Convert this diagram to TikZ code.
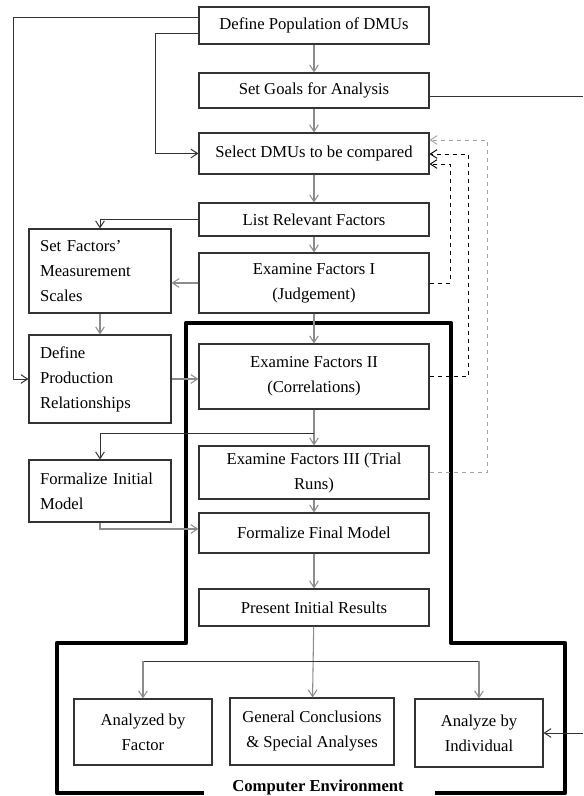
\documentclass[tikz,border=0pt]{standalone}
\usepackage{fontspec}
\setmainfont{Liberation Serif}
\usetikzlibrary{arrows.meta}
\definecolor{boxline}{HTML}{333333}
\definecolor{flowgray}{HTML}{8C8C8C}
\tikzset{
  mainbox/.style={draw=boxline, line width=0.8pt, minimum width=172.5pt, align=center, inner sep=2pt},
  sidebox/.style={draw=boxline, line width=0.8pt, text width=90pt, inner xsep=8.25pt, align=left},
  endbox/.style={draw=boxline, line width=0.8pt, align=center, inner sep=2pt},
  flow/.style={draw=flowgray, line width=0.8pt, -{Straight Barb[length=5pt,width=6.5pt]}},
  link/.style={draw=boxline, line width=0.75pt},
  feedback/.style={dashed, line width=0.7pt, -{Straight Barb[length=5pt,width=6.5pt]}},
  envframe/.style={draw=black, line width=3.2pt, line join=round}
}
\begin{document}
\begin{tikzpicture}[x=0.75pt,y=-0.75pt,font=\fontsize{12.5}{18.75}\selectfont]
\useasboundingbox (0,0) rectangle (583,796);
% main column
\node[mainbox, minimum height=27.75pt] (pop) at (314,25.5) {Define Population of DMUs};
\node[mainbox, minimum height=26.25pt] (goals) at (314,90.5) {Set Goals for Analysis};
\node[mainbox, minimum height=30.75pt] (sel) at (314,153.5) {Select DMUs to be compared};
\node[mainbox, minimum height=24.75pt] (list) at (314,219.5) {List Relevant Factors};
\node[mainbox, minimum height=45pt] (exI) at (314,283) {Examine Factors I\\(Judgement)};
\node[mainbox, minimum height=48.75pt] (exII) at (314,376.5) {Examine Factors II\\(Correlations)};
\node[mainbox, minimum height=39.75pt] (exIII) at (314,472.5) {Examine Factors III (Trial\\Runs)};
\node[mainbox, minimum height=30pt] (final) at (314,533) {Formalize Final Model};
\node[mainbox, minimum height=27.75pt] (present) at (314,607.5) {Present Initial Results};
% left column
\node[sidebox, minimum height=63pt] (scales) at (100,271) {Set Factors'\\Measurement\\Scales};
\node[sidebox, minimum height=66pt] (prod) at (100,379) {Define\\Production\\Relationships};
\node[sidebox, minimum height=46.5pt] (initial) at (100,491) {Formalize Initial\\Model};
% results
\node[endbox, minimum width=103.5pt, minimum height=49.5pt] (byfactor) at (143,732) {Analyzed by\\Factor};
\node[endbox, minimum width=123pt, minimum height=50.25pt] (general) at (312,731.5) {General Conclusions\\\& Special Analyses};
\node[endbox, minimum width=96pt, minimum height=51pt] (individual) at (479,733) {Analyze by\\Individual};
% computer environment
\draw[envframe] (204,793) -- (57,793) -- (57,643) -- (186,643) -- (186,323) -- (451,323)
  -- (451,643) -- (565,643) -- (565,793) -- (435,793);
\node[font=\fontsize{12.5}{15}\selectfont\bfseries, anchor=base] (env) at (318,791) {Computer Environment};
% helper points
\coordinate (outer) at (13,17);
\coordinate (inner) at (155,33);
\coordinate (split) at (314,433);
\coordinate (fan) at (314,661);
\coordinate (rightedge) at (583,0);
\coordinate (fbI) at (450,164);
\coordinate (fbII) at (468,154);
\coordinate (fbIII) at (487,140);
% connectors
\draw[flow] (pop) -- (goals);
\draw[flow] (goals) -- (sel);
\draw[flow] (sel) -- (list);
\draw[flow] (list) -- (exI);
\draw[flow] (exI) -- (exII);
\draw[flow] (exII) -- (exIII);
\draw[flow] (exIII) -- (final);
\draw[flow] (final) -- (present);
\draw[flow] (present) -- (general);
\draw[link, -{Straight Barb[length=5pt,width=6.5pt]}] (pop.west |- outer) -- (outer) |- (prod.west);
\draw[link, -{Straight Barb[length=5pt,width=6.5pt]}] (pop.west |- inner) -- (inner) |- (sel.west);
\draw[link, -{Straight Barb[length=5pt,width=6.5pt]}] (list.west) -| (scales.north);
\draw[flow] (exI.west) -- (exI.west -| scales.east);
\draw[flow] (scales) -- (prod);
\draw[flow] (prod.east) -- (prod.east -| exII.west);
\draw[link, -{Straight Barb[length=5pt,width=6.5pt]}] (split) -| (initial.north);
\draw[flow] (initial.south) |- ([yshift=3pt]final.west);
\draw[link] (byfactor.north |- fan) -- (individual.north |- fan);
\draw[flow] (byfactor.north |- fan) -- (byfactor.north);
\draw[flow] (individual.north |- fan) -- (individual.north);
\draw[link] ([yshift=-4.5pt]goals.east) -- ([yshift=-4.5pt]goals.east -| rightedge);
\draw[link, -{Straight Barb[length=5pt,width=6.5pt]}] (rightedge |- individual.east) -- (individual.east);
% feedback loops
\draw[feedback] (exI.east) -| (fbI) -- (sel.east |- fbI);
\draw[feedback] (exII.east) -| (fbII) -- (sel.east |- fbII);
\draw[feedback, draw=flowgray!80] (exIII.east) -| (fbIII) -- (sel.east |- fbIII);
\end{tikzpicture}
\end{document}
